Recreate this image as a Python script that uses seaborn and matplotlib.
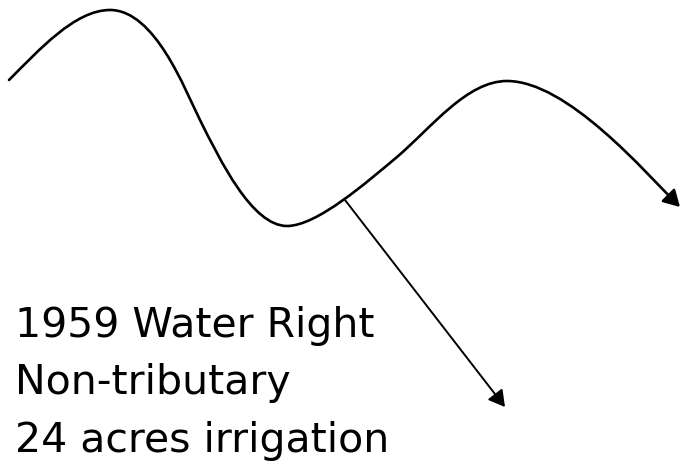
import numpy as np
import matplotlib.pyplot as plt
import seaborn as sns
from matplotlib.path import Path
from matplotlib.patches import FancyArrowPatch

# river course: anchor points with bezier control points (pixel space, y down)
river_x = [9, 39, 75, 110, 155, 185, 200, 220, 252, 287,
           317, 367, 397, 432, 467, 507, 567, 645, 680]
river_y = [80, 50, 10, 10, 10, 90, 120, 160, 226, 226,
           226, 182, 157, 127, 81, 81, 81, 172, 207]

# diversion ditch from the river
branch_start = (345, 200)
branch_end = (505, 407)

labels = ["1959 Water Right", "Non-tributary", "24 acres irrigation"]
label_baselines = [337, 394, 452]

sns.set_theme(style="white")
plt.rcParams['font.family'] = ['DejaVu Sans']

fig = plt.figure(figsize=(6.83, 4.65), dpi=100)
ax = fig.add_axes([0, 0, 1, 1])
ax.set_xlim(0, 683)
ax.set_ylim(465, 0)
ax.axis("off")

codes = [Path.MOVETO] + [Path.CURVE4] * (len(river_x) - 1)
river = Path(list(zip(river_x, river_y)), codes)
ax.add_patch(FancyArrowPatch(path=river, arrowstyle="-|>,head_length=0.49,head_width=0.28",
                             mutation_scale=20, color="black", lw=1.9,
                             shrinkA=0, shrinkB=0))

ax.annotate("", xy=branch_end, xytext=branch_start,
            arrowprops=dict(arrowstyle="-|>,head_length=0.49,head_width=0.28",
                            mutation_scale=20, color="black", lw=1.4,
                            shrinkA=0, shrinkB=0))

for txt, yb in zip(labels, label_baselines):
    ax.text(15, yb, txt, fontsize=29.5, va="baseline", ha="left", color="black")

fig.savefig("out.png", dpi=100)
